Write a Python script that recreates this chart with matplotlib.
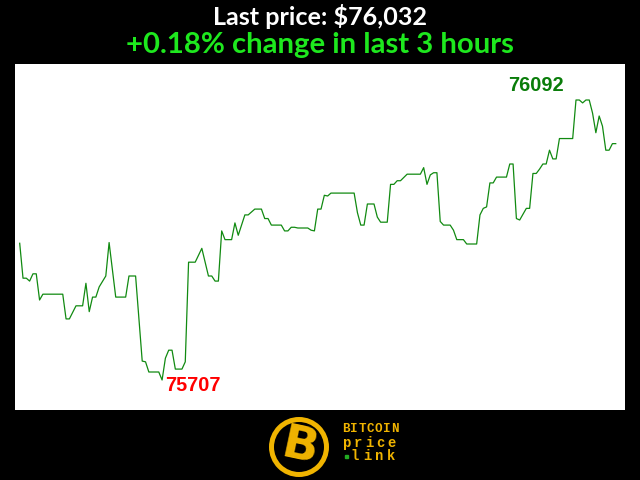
import matplotlib
matplotlib.use("Agg")
import matplotlib.pyplot as plt
from matplotlib.patches import Circle, Rectangle

# ---- data: minutes into the 3-hour window, BTC price (USD) ----
minutes = [0, 1, 2, 3, 4, 5, 6, 7, 13, 14, 15, 17, 19, 20, 21, 22, 23, 24, 26,
           27, 29, 32, 33, 35, 37, 38, 39, 42, 43, 44, 45, 46, 47, 49, 50, 51,
           53, 55, 57, 58, 59, 60, 61, 62, 64, 65, 66, 68, 69, 71, 73, 74, 75,
           76, 79, 80, 81, 82, 83, 84, 87, 88, 89, 90, 91, 92, 93, 94, 101, 102,
           103, 104, 105, 107, 108, 109, 111, 112, 113, 114, 115, 117, 121, 122,
           123, 124, 125, 126, 127, 128, 130, 131, 132, 134, 135, 138, 139, 140,
           141, 142, 143, 144, 147, 148, 149, 150, 151, 153, 154, 155, 156, 157,
           158, 159, 160, 161, 162, 163, 167, 168, 169, 170, 171, 172, 173, 174,
           175, 176, 177, 178, 179, 180]
prices = [75895, 75847, 75847, 75843, 75853, 75853, 75817, 75825, 75825, 75791,
          75791, 75809, 75809, 75840, 75801, 75821, 75821, 75835, 75850, 75896,
          75821, 75821, 75850, 75850, 75733, 75732, 75718, 75718, 75707, 75737,
          75748, 75748, 75722, 75722, 75732, 75869, 75869, 75888, 75850, 75850,
          75843, 75843, 75912, 75900, 75900, 75923, 75906, 75934, 75934, 75942,
          75942, 75929, 75929, 75920, 75920, 75912, 75912, 75917, 75917, 75916,
          75916, 75913, 75912, 75942, 75942, 75961, 75960, 75964, 75964, 75937,
          75920, 75920, 75949, 75949, 75931, 75924, 75924, 75976, 75976, 75981,
          75981, 75990, 75990, 75999, 75976, 75989, 75992, 75992, 75925, 75920,
          75920, 75913, 75900, 75900, 75894, 75894, 75934, 75943, 75945, 75978,
          75978, 75986, 75986, 76004, 76004, 75929, 75927, 75943, 75943, 75991,
          75991, 75997, 76004, 76004, 76023, 76011, 76011, 76039, 76039, 76092,
          76092, 76088, 76092, 76092, 76074, 76047, 76070, 76056, 76023, 76023,
          76032, 76032]

last_price = prices[-1]
pct_change = 0.18
title1 = f"Last price: ${last_price:,}"
title2 = f"+{pct_change:.2f}% change in last 3 hours"

fig = plt.figure(figsize=(6.4, 4.8), dpi=100, facecolor="black")
ax = fig.add_axes([15 / 640, 70 / 480, 610 / 640, 346 / 480])
ax.set_facecolor("white")
ax.plot(minutes, prices, color="#118a11", lw=0.9)
ax.set_xlim(-1.42, 182.8)
ax.set_ylim(75665.75, 76141.5)
ax.set_xticks([])
ax.set_yticks([])
for s in ax.spines.values():
    s.set_visible(False)

# min / max labels
imin = prices.index(min(prices))
imax = prices.index(max(prices))
ax.annotate(str(prices[imin]), (minutes[imin], prices[imin]), xytext=(3, -11),
            textcoords="offset pixels", ha="left", va="baseline", color="#ff0000",
            fontsize=14.3, fontweight="bold", family="Liberation Sans")
ax.annotate(str(prices[imax]), (minutes[imax], prices[imax]), xytext=(-12, 9),
            textcoords="offset pixels", ha="right", va="baseline", color="#0a7d0a",
            fontsize=14.3, fontweight="bold", family="Liberation Sans")

# titles
fig.text(0.5, 1 - 25 / 480, title1, ha="center", va="baseline", color="white",
         fontsize=18.1, fontweight="bold", family="Lato")
fig.text(0.5, 1 - 53 / 480, title2, ha="center", va="baseline", color="#1ee81e",
         fontsize=21.1, fontweight="bold", family="Lato")

# logo
lax = fig.add_axes([0, 0, 1, 1], zorder=5)
lax.set_xlim(0, 640)
lax.set_ylim(480, 0)
lax.axis("off")
gold = "#f0b400"
lax.add_patch(Circle((299, 447), 27.5, facecolor="black", edgecolor=gold, lw=3.6))
lax.text(300, 448, "B", ha="center", va="center", color=gold, fontsize=34,
         fontweight="bold", family="DejaVu Sans", rotation=-12)
for i, ch in enumerate("BITCOIN"):
    lax.text(342 + i * 8.1 + 4, 429, ch, ha="center", va="center", color=gold,
             fontsize=9, fontweight="bold", family="Liberation Mono")
for i, ch in enumerate("price"):
    lax.text(342 + i * 11.2 + 5, 443, ch, ha="center", va="center", color=gold,
             fontsize=10, fontweight="bold", family="Liberation Mono")
lax.add_patch(Rectangle((344.5, 455), 3, 3, color="#22aa22"))
for i, ch in enumerate("link"):
    lax.text(350 + i * 12 + 5, 456, ch, ha="center", va="center", color=gold,
             fontsize=10, fontweight="bold", family="Liberation Mono")

fig.savefig("out.png", dpi=100, facecolor="black")
